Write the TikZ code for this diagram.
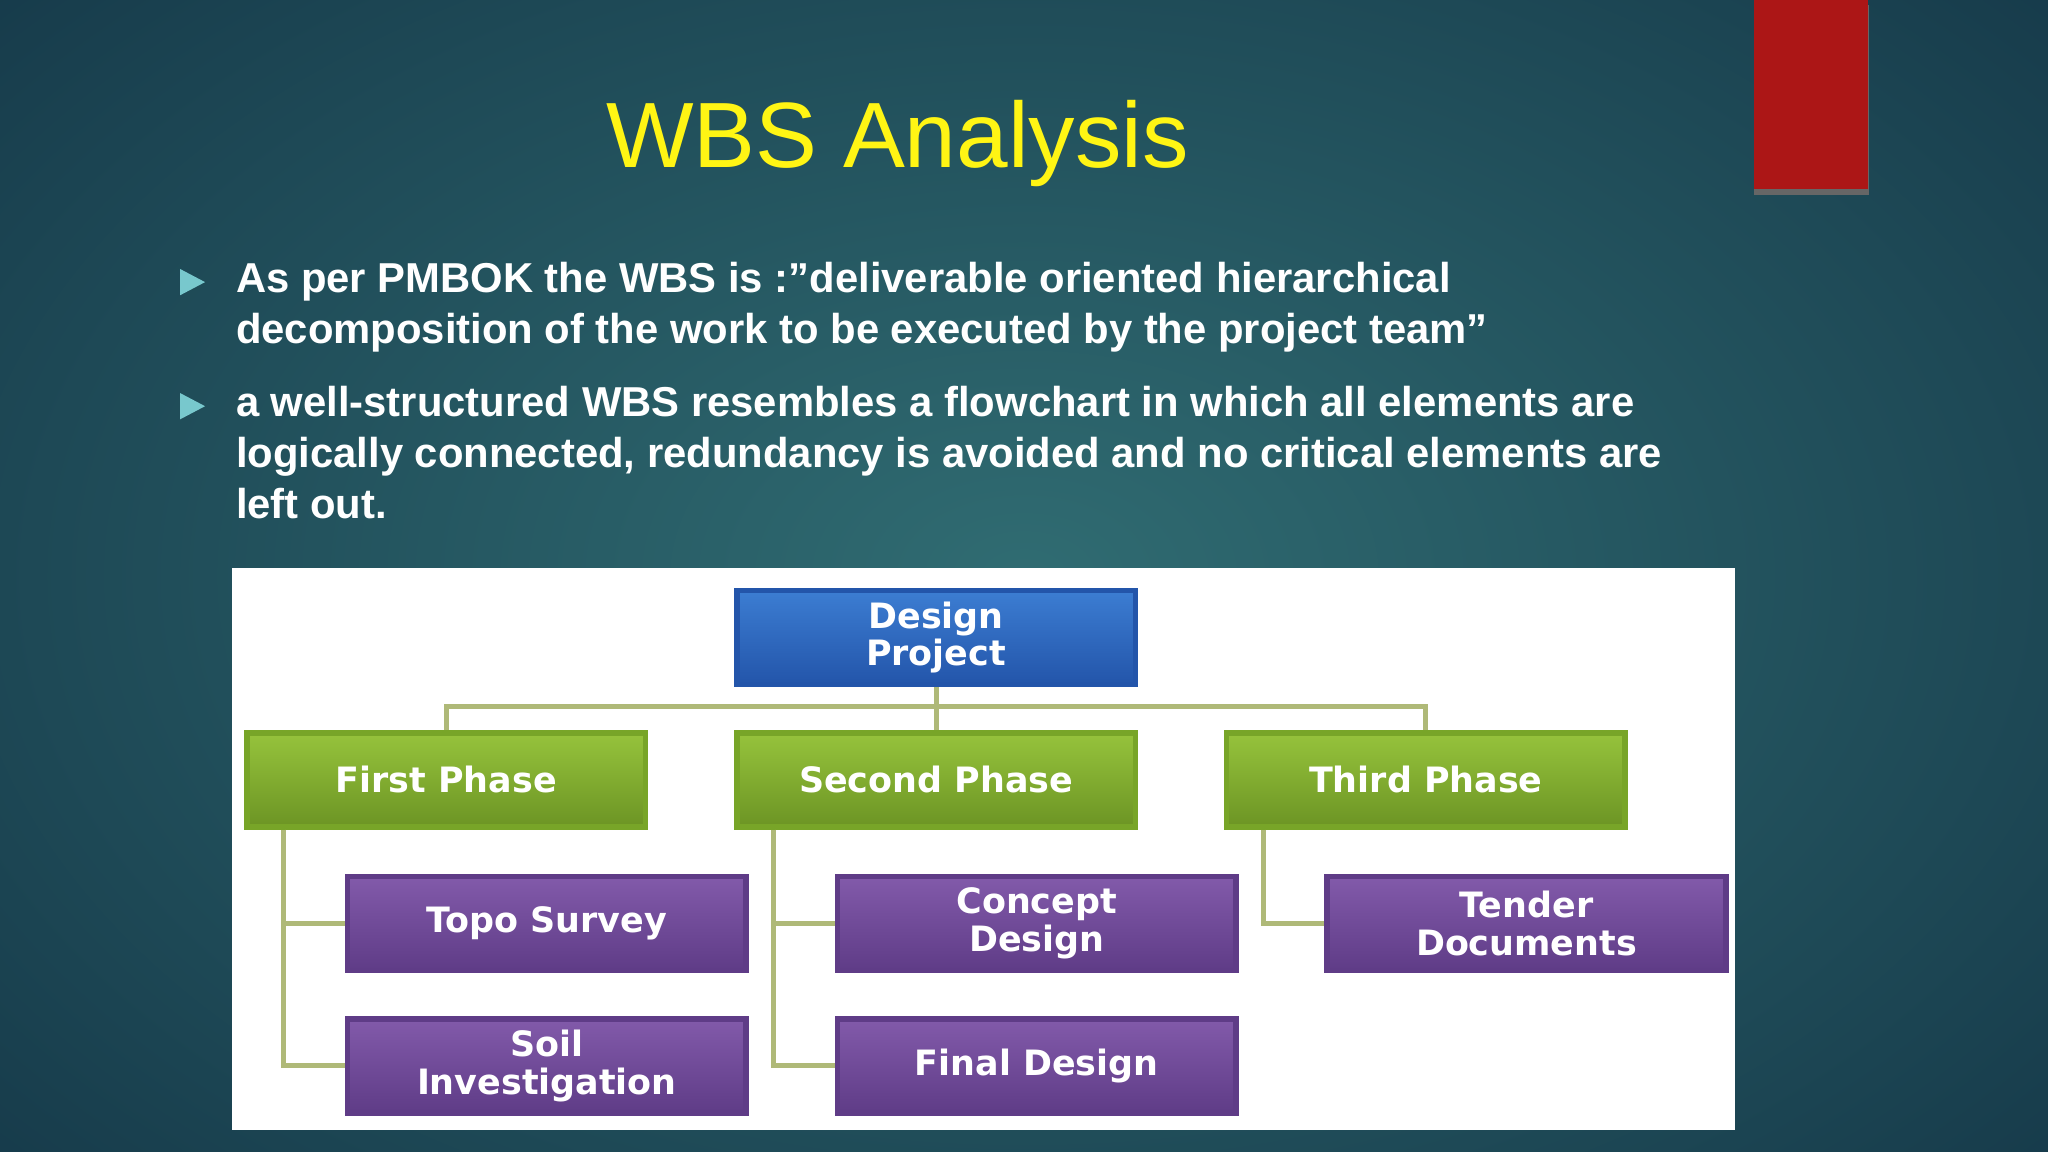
\documentclass[tikz,border=0pt]{standalone}
\usepackage{fontspec}
\setmainfont{Liberation Sans}
\newfontfamily\boxfont{DejaVu Sans}
\definecolor{bgin}{RGB}{48,108,114}
\definecolor{bgout}{RGB}{22,58,74}
\definecolor{ttl}{RGB}{255,245,20}
\definecolor{bul}{RGB}{120,200,205}
\definecolor{redb}{RGB}{172,22,22}
\definecolor{gA}{RGB}{150,195,60}
\definecolor{gB}{RGB}{120,165,40}
\definecolor{bA}{RGB}{60,125,210}
\definecolor{bB}{RGB}{35,85,170}
\definecolor{pA}{RGB}{130,90,170}
\definecolor{pB}{RGB}{95,60,135}
\definecolor{lnc}{RGB}{175,185,120}
\begin{document}
\begin{tikzpicture}[x=0.01cm,y=-0.01cm,
  bx/.style={minimum width=3.05cm,minimum height=0.72cm,inner sep=0pt,anchor=north west,
    text=white,font=\boxfont\bfseries\fontsize{7.6}{8.2}\selectfont,align=center,line width=1.2pt},
  gbox/.style={bx,draw=gB,top color=gA,bottom color=gB!90!black},
  bbox/.style={bx,draw=bB,top color=bA,bottom color=bB},
  pbox/.style={bx,draw=pB,top color=pA,bottom color=pB},
  conn/.style={draw=lnc,line width=1.1pt},
  btxt/.style={anchor=north west,text=white,font=\bfseries\fontsize{9.1}{11.1}\selectfont,align=left,inner sep=0pt}]
\useasboundingbox (0,0) rectangle (1568,882);
\shade[inner color=bgin,outer color=bgout] (-300,-250) rectangle (1868,1132);
\fill[black!60] (1343,4) rectangle (1431,149);
\fill[redb] (1343,0) rectangle (1430,145);
\node[text=ttl,font=\fontsize{20.2}{21}\selectfont] (title) at (687,110) {WBS Analysis};
\fill[bul] (138,206) -- (157,216) -- (138,226) -- cycle;
\fill[bul] (138,301) -- (157,311) -- (138,321) -- cycle;
\node[btxt] (b1) at (180,200) {As per PMBOK the WBS is :”deliverable oriented hierarchical\\decomposition of the work to be executed by the project team”};
\node[btxt] (b2) at (180,295) {a well-structured WBS resembles a flowchart in which all elements are\\logically connected, redundancy is avoided and no critical elements are\\left out.};
\fill[white] (178,435) rectangle (1328,865);
\node[bbox] (dp) at (562,450) {Design\\Project};
\node[gbox] (p1) at (187,559) {First Phase};
\node[gbox] (p2) at (562,559) {Second Phase};
\node[gbox] (p3) at (937,559) {Third Phase};
\node[pbox] (topo) at (264,669) {Topo Survey};
\node[pbox] (soil) at (264,778) {Soil\\Investigation};
\node[pbox] (cd) at (639,669) {Concept\\Design};
\node[pbox] (fd) at (639,778) {Final Design};
\node[pbox] (td) at (1014,669) {Tender\\Documents};
\coordinate (j) at (dp.south|-0,541);
\draw[conn] (dp.south) -- (j);
\draw[conn] (p1.north) |- (j) -| (p3.north);
\draw[conn] (j) -- (p2.north);
\draw[conn] ([xshift=0.3cm]p1.south west) |- (topo.west);
\draw[conn] ([xshift=0.3cm]p1.south west) |- (soil.west);
\draw[conn] ([xshift=0.3cm]p2.south west) |- (cd.west);
\draw[conn] ([xshift=0.3cm]p2.south west) |- (fd.west);
\draw[conn] ([xshift=0.3cm]p3.south west) |- (td.west);
\end{tikzpicture}
\end{document}
